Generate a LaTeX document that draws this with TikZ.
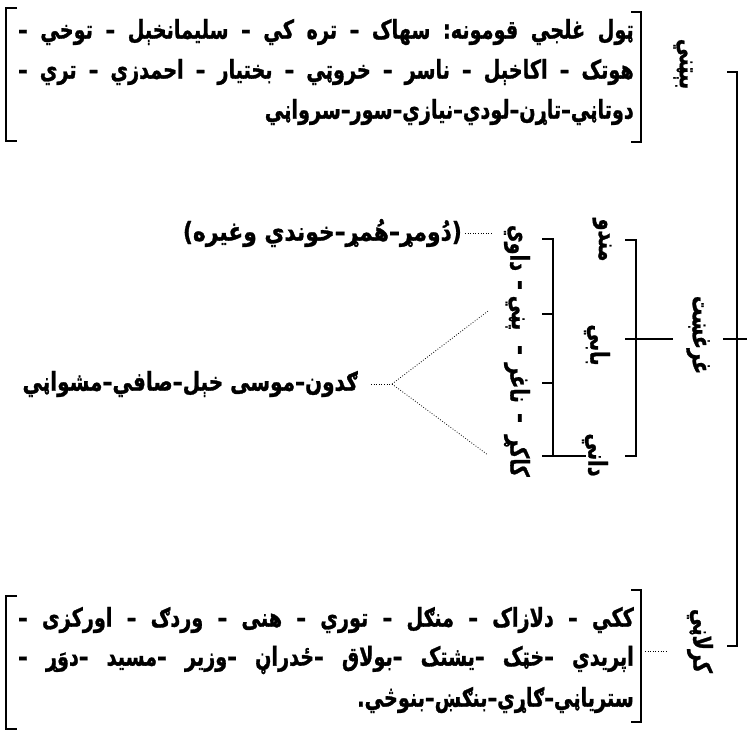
\documentclass[tikz,border=0pt]{standalone}
\usepackage{fontspec}
\usetikzlibrary{calc}
\newfontfamily\pashto[Script=Arabic,BoldFeatures={FakeBold=1.2}]{DejaVu Sans}
\TeXXeTstate=1
\newcommand{\pstext}[2][0.74]{\scalebox{#1}[1]{\beginR#2\endR}}
\newcommand{\psline}[1]{\scalebox{0.74}[1]{\hbox to 832pt{\beginR#1\endR}}}
\tikzset{
  ptext/.style={font=\pashto\bfseries\fontsize{26}{30}\selectfont\frenchspacing,inner sep=0pt},
  vlabel/.style={ptext,rotate=-90},
  brk/.style={line width=1.3pt},
  dotline/.style={line width=0.8pt,dash pattern=on 0.8pt off 1.8pt},
}

\begin{document}
\begin{tikzpicture}[x=1pt,y=-1pt]
\useasboundingbox (0,0) rectangle (747,734);
% Bitani: all Ghilji tribes
\node[ptext,anchor=east] (bit1) at (634,32)
  {\psline{ټول غلجي قومونه: سهاک – تره کي – سليمانخېل – توخي –}};
\node[ptext,anchor=east] (bit2) at (634,72)
  {\psline{هوتک – اکاخېل – ناسر – خروټي – بختيار – احمدزي – تري –}};
\node[ptext,anchor=east] (bit3) at (634,112)
  {\pstext{دوتاڼي–تاړن–لودي–نيازي–سور–سرواڼي}};
\draw[brk] (17,8) -- (6,8) -- (6,141) -- (17,141);
\draw[brk] (631,12) -- (641,12) -- (641,142) -- (631,142);
\node[vlabel] (bitani) at (683,64) {\pstext{بېټني}};
% main trunk
\coordinate (trunk-top) at (737,72);
\coordinate (trunk-bot) at (737,646);
\draw[brk] (727,72) -- (trunk-top) -- (trunk-bot) -- (727,646);
% Ghurghusht and sons
\node[vlabel] (ghur) at (698,335) {\pstext{غرغښت}};
\draw[brk] (723,339) -- (747,339);
\node[vlabel] (mandu) at (602,240) {\pstext{مندو}};
\node[vlabel] (babi) at (597,345) {\pstext{بابي}};
\node[vlabel] (dani) at (595,455) {\pstext{داني}};
\coordinate (gs-top) at (636,240);
\coordinate (gs-bot) at (636,456);
\draw[brk] (625,240) -- (gs-top) -- (gs-bot) -- (625,456);
\draw[brk] (625,339) -- (673,339);
% Dani's sons
\node[vlabel] (dawi) at (517,248) {\pstext{داوي}};
\node[vlabel] (dash1) at (517,285) {\pstext{–}};
\node[vlabel] (pani) at (515,313) {\pstext{پڼي}};
\node[vlabel] (dash2) at (517,350) {\pstext{–}};
\node[vlabel] (naghar) at (517,383) {\pstext{ناغر}};
\node[vlabel] (dash3) at (517,418) {\pstext{–}};
\node[vlabel] (kakar) at (517,456) {\pstext{کاکړ}};
\coordinate (ds-top) at (553,239);
\coordinate (ds-bot) at (553,456);
\draw[brk] (542,239) -- (ds-top) -- (ds-bot) -- (542,456);
\draw[brk] (542,314) -- (553,314);
\draw[brk] (542,383) -- (553,383);
\draw[brk] (ds-bot) -- (586,456);
% offshoots
\node[ptext,anchor=east] (dumar) at (462,233) {\pstext[0.84]{(دُومړ–هُمړ–خوندي وغيره)}};
\coordinate (dawi-in) at (493,233);
\draw[dotline] ([xshift=3pt]dumar.east) -- (dawi-in);
\node[ptext,anchor=east] (gadun) at (358,384) {\pstext[0.77]{ګدون–موسی خېل–صافي–مشواڼي}};
\coordinate (fan) at (392,384);
\coordinate (pani-in) at (488,311);
\coordinate (kakar-in) at (488,455);
\draw[dotline] ([xshift=13pt]gadun.east) -- (fan);
\draw[dotline] (fan) -- (pani-in);
\draw[dotline] (fan) -- (kakar-in);
% Karlani
\node[vlabel] (karlani) at (700,641) {\pstext{کرلاڼي}};
\node[ptext,anchor=east] (kar1) at (634,620)
  {\psline{ککي – دلازاک – منګل – توري – هنی – وردګ – اورکزی –}};
\node[ptext,anchor=east] (kar2) at (634,660)
  {\psline{اپريدي –خټک –يشتک –بولاق –ځدراڼ –وزير –مسيد –دوَړ –}};
\node[ptext,anchor=east] (kar3) at (634,700)
  {\pstext{ستریاڼي–ګاړي–بنګښ–بنوڅي.}};
\draw[brk] (17,596) -- (6,596) -- (6,729) -- (17,729);
\draw[brk] (631,590) -- (641,590) -- (641,722) -- (631,722);
\coordinate (kar-brk) at (645,651);
\draw[dotline] (kar-brk) -- (667,651);
\end{tikzpicture}
\end{document}
